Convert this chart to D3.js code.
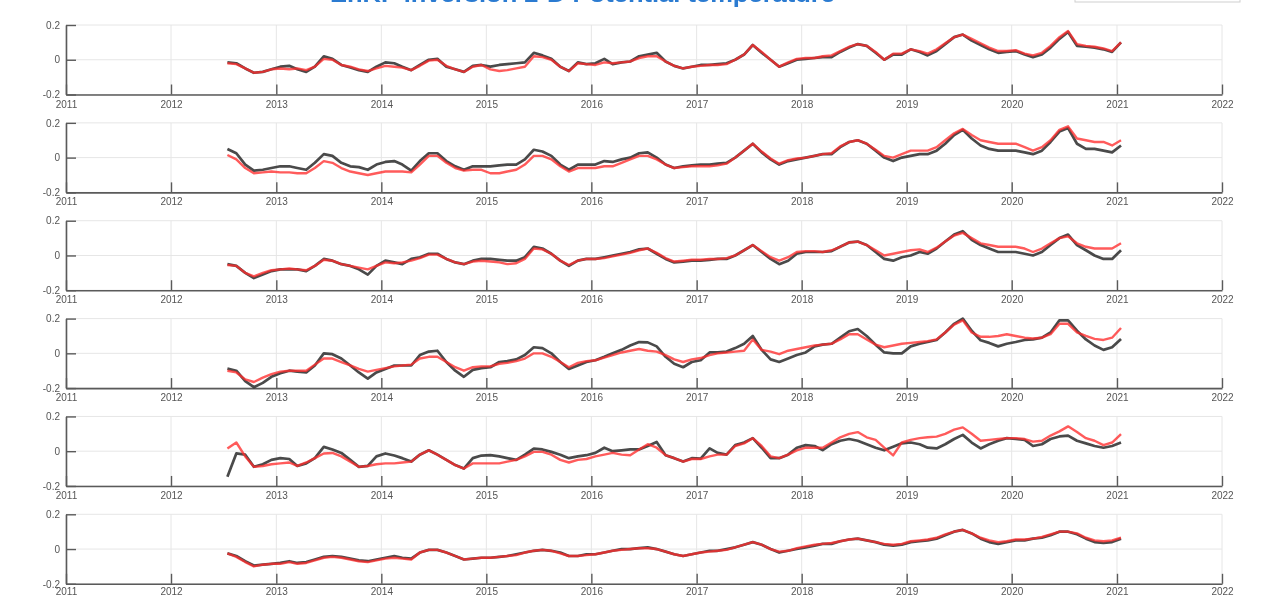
<!DOCTYPE html>
<html>
<head>
<meta charset="utf-8">
<script src="https://cdn.jsdelivr.net/npm/d3@7"></script>
<style>
  body { margin: 0; background: #fff; }
  svg { display: block; font-family: "Liberation Sans", Arial, sans-serif; filter: blur(0.55px); }
</style>
</head>
<body>
<div id="chart"></div>
<script>
// chart text and ticks
const titleText = "EnKF inversion 2-D Potential temperature";
const yearTicks = [2011, 2012, 2013, 2014, 2015, 2016, 2017, 2018, 2019, 2020, 2021, 2022];
const yTicks = [-0.2, 0, 0.2];
// monthly series, Jul 2012 .. Jan 2021
const firstMonth = new Date(2012, 6, 1), lastMonth = new Date(2021, 0, 1);

const black1 = [-0.015, -0.02, -0.05, -0.075, -0.07, -0.055,
  -0.04, -0.035, -0.055, -0.07, -0.04, 0.02, 0.005, -0.03, -0.045, -0.06, -0.07, -0.04,
  -0.015, -0.02, -0.04, -0.06, -0.03, 0.0, 0.005, -0.04, -0.055, -0.07, -0.035, -0.03,
  -0.04, -0.03, -0.025, -0.02, -0.015, 0.04, 0.025, 0.005, -0.04, -0.065, -0.015, -0.025,
  -0.02, 0.005, -0.025, -0.015, -0.01, 0.02, 0.03, 0.04, -0.01, -0.035, -0.05, -0.04,
  -0.03, -0.03, -0.025, -0.02, 0.0, 0.03, 0.085, 0.04, 0.0, -0.04, -0.02, 0.0,
  0.005, 0.01, 0.015, 0.015, 0.045, 0.07, 0.09, 0.08, 0.04, 0.0, 0.03, 0.03,
  0.06, 0.045, 0.025, 0.05, 0.09, 0.13, 0.145, 0.11, 0.085, 0.06, 0.04, 0.045,
  0.05, 0.03, 0.015, 0.03, 0.07, 0.12, 0.16, 0.08, 0.075, 0.07, 0.06, 0.045,
  0.1];
const red1 = [-0.02, -0.025, -0.05, -0.075, -0.07, -0.055,
  -0.05, -0.055, -0.05, -0.06, -0.04, 0.005, 0.0, -0.03, -0.04, -0.055, -0.065, -0.05,
  -0.035, -0.04, -0.045, -0.06, -0.035, -0.005, 0.0, -0.035, -0.055, -0.07, -0.04, -0.03,
  -0.055, -0.065, -0.06, -0.05, -0.04, 0.02, 0.015, 0.0, -0.04, -0.065, -0.02, -0.025,
  -0.03, -0.015, -0.02, -0.015, -0.01, 0.01, 0.02, 0.02, -0.01, -0.035, -0.05, -0.04,
  -0.035, -0.03, -0.03, -0.025, 0.0, 0.03, 0.085, 0.045, 0.0, -0.04, -0.015, 0.005,
  0.01, 0.01, 0.02, 0.025, 0.05, 0.075, 0.09, 0.08, 0.045, 0.0, 0.035, 0.035,
  0.06, 0.05, 0.035, 0.06, 0.095, 0.13, 0.145, 0.12, 0.095, 0.07, 0.05, 0.05,
  0.055, 0.035, 0.025, 0.04, 0.08, 0.13, 0.165, 0.09, 0.08, 0.075, 0.065, 0.05,
  0.1];

const black2 = [0.05, 0.025, -0.04, -0.075, -0.07, -0.06,
  -0.05, -0.05, -0.06, -0.07, -0.03, 0.02, 0.01, -0.03, -0.05, -0.055, -0.07, -0.04,
  -0.025, -0.02, -0.04, -0.075, -0.02, 0.025, 0.025, -0.02, -0.05, -0.07, -0.05, -0.05,
  -0.05, -0.045, -0.04, -0.04, -0.01, 0.045, 0.035, 0.01, -0.04, -0.07, -0.04, -0.04,
  -0.04, -0.02, -0.025, -0.01, 0.0, 0.025, 0.03, 0.0, -0.04, -0.06, -0.05, -0.045,
  -0.04, -0.04, -0.035, -0.03, 0.0, 0.04, 0.08, 0.03, -0.01, -0.04, -0.02, -0.01,
  0.0, 0.01, 0.02, 0.02, 0.06, 0.09, 0.1, 0.08, 0.04, 0.0, -0.02, 0.0,
  0.01, 0.02, 0.02, 0.04, 0.08, 0.13, 0.16, 0.11, 0.07, 0.05, 0.04, 0.04,
  0.04, 0.03, 0.02, 0.04, 0.09, 0.15, 0.17, 0.08, 0.05, 0.05, 0.04, 0.03,
  0.07];
const red2 = [0.015, -0.01, -0.06, -0.09, -0.085, -0.08,
  -0.085, -0.085, -0.09, -0.09, -0.06, -0.02, -0.03, -0.06, -0.08, -0.09, -0.1, -0.09,
  -0.08, -0.08, -0.08, -0.085, -0.04, 0.01, 0.01, -0.03, -0.06, -0.075, -0.07, -0.07,
  -0.09, -0.09, -0.08, -0.07, -0.04, 0.01, 0.01, -0.01, -0.05, -0.08, -0.06, -0.06,
  -0.06, -0.05, -0.05, -0.03, -0.01, 0.01, 0.01, -0.01, -0.04, -0.06, -0.055, -0.05,
  -0.05, -0.05, -0.045, -0.035, 0.0, 0.04, 0.08, 0.035, -0.005, -0.035, -0.015, -0.005,
  0.0, 0.01, 0.02, 0.025, 0.065, 0.09, 0.1, 0.08, 0.045, 0.01, 0.0, 0.02,
  0.04, 0.04, 0.04, 0.06, 0.1, 0.14, 0.165, 0.13, 0.1, 0.09, 0.08, 0.08,
  0.08, 0.06, 0.04, 0.06, 0.1, 0.16, 0.18, 0.11, 0.1, 0.09, 0.09, 0.07,
  0.1];

const black3 = [-0.05, -0.06, -0.1, -0.13, -0.11, -0.09,
  -0.08, -0.08, -0.08, -0.09, -0.06, -0.02, -0.03, -0.05, -0.06, -0.08, -0.11, -0.06,
  -0.03, -0.04, -0.05, -0.02, -0.01, 0.01, 0.01, -0.02, -0.04, -0.05, -0.03, -0.02,
  -0.02, -0.025, -0.03, -0.03, -0.01, 0.05, 0.04, 0.01, -0.03, -0.06, -0.03, -0.02,
  -0.02, -0.01, 0.0, 0.01, 0.02, 0.035, 0.04, 0.01, -0.02, -0.04, -0.035, -0.03,
  -0.03, -0.025, -0.02, -0.02, 0.0, 0.03, 0.06, 0.02, -0.02, -0.05, -0.03, 0.01,
  0.02, 0.02, 0.02, 0.025, 0.05, 0.075, 0.08, 0.06, 0.02, -0.02, -0.03, -0.01,
  0.0, 0.02, 0.01, 0.04, 0.08, 0.12, 0.14, 0.09, 0.06, 0.04, 0.02, 0.02,
  0.02, 0.01, 0.0, 0.02, 0.06, 0.1, 0.12, 0.06, 0.03, 0.0, -0.02, -0.02,
  0.03];
const red3 = [-0.055, -0.06, -0.1, -0.12, -0.1, -0.085,
  -0.08, -0.075, -0.08, -0.085, -0.06, -0.025, -0.03, -0.05, -0.06, -0.07, -0.08, -0.06,
  -0.04, -0.045, -0.04, -0.03, -0.015, 0.005, 0.005, -0.02, -0.04, -0.05, -0.035, -0.03,
  -0.035, -0.04, -0.05, -0.045, -0.02, 0.04, 0.035, 0.01, -0.03, -0.055, -0.03, -0.02,
  -0.02, -0.015, -0.005, 0.005, 0.015, 0.03, 0.04, 0.015, -0.015, -0.035, -0.03, -0.025,
  -0.025, -0.02, -0.02, -0.015, 0.0, 0.03, 0.06, 0.025, -0.01, -0.03, -0.01, 0.02,
  0.025, 0.025, 0.02, 0.03, 0.05, 0.075, 0.08, 0.06, 0.03, 0.0, 0.01, 0.02,
  0.03, 0.035, 0.02, 0.045, 0.08, 0.115, 0.13, 0.1, 0.07, 0.06, 0.05, 0.05,
  0.05, 0.04, 0.02, 0.04, 0.07, 0.1, 0.11, 0.07, 0.05, 0.04, 0.04, 0.04,
  0.07];

const black4 = [-0.088, -0.1, -0.16, -0.195, -0.17, -0.135,
  -0.115, -0.1, -0.105, -0.11, -0.07, 0.0, -0.005, -0.03, -0.07, -0.11, -0.145, -0.11,
  -0.09, -0.07, -0.07, -0.07, -0.01, 0.01, 0.015, -0.05, -0.1, -0.135, -0.095, -0.085,
  -0.08, -0.05, -0.045, -0.035, -0.01, 0.035, 0.03, 0.0, -0.05, -0.09, -0.07, -0.05,
  -0.04, -0.02, 0.0, 0.02, 0.045, 0.065, 0.063, 0.04, -0.02, -0.06, -0.08, -0.05,
  -0.04, 0.005, 0.005, 0.01, 0.03, 0.055, 0.1, 0.02, -0.035, -0.05, -0.03, -0.01,
  0.005, 0.04, 0.05, 0.055, 0.09, 0.127, 0.14, 0.1, 0.05, 0.005, 0.0, 0.0,
  0.04, 0.055, 0.065, 0.077, 0.12, 0.17, 0.2, 0.13, 0.075, 0.06, 0.04, 0.055,
  0.065, 0.077, 0.08, 0.09, 0.12, 0.19, 0.19, 0.13, 0.08, 0.045, 0.02, 0.035,
  0.083];
const red4 = [-0.1, -0.11, -0.15, -0.165, -0.14, -0.12,
  -0.105, -0.1, -0.1, -0.1, -0.065, -0.03, -0.03, -0.05, -0.07, -0.09, -0.105, -0.095,
  -0.085, -0.075, -0.07, -0.065, -0.03, -0.02, -0.02, -0.05, -0.08, -0.1, -0.08, -0.075,
  -0.075, -0.06, -0.055, -0.045, -0.03, 0.0, 0.0, -0.02, -0.05, -0.08, -0.055, -0.045,
  -0.04, -0.025, -0.01, 0.005, 0.015, 0.025, 0.015, 0.01, -0.01, -0.035, -0.05, -0.035,
  -0.027, -0.01, 0.0, 0.005, 0.01, 0.015, 0.08, 0.02, 0.01, -0.005, 0.015, 0.025,
  0.035, 0.045, 0.05, 0.055, 0.08, 0.11, 0.11, 0.08, 0.05, 0.035, 0.045, 0.055,
  0.06, 0.065, 0.07, 0.08, 0.12, 0.165, 0.19, 0.12, 0.095, 0.095, 0.1, 0.11,
  0.1, 0.09, 0.085, 0.09, 0.11, 0.17, 0.17, 0.12, 0.1, 0.083, 0.077, 0.09,
  0.146];

const black5 = [-0.147, -0.013, -0.02, -0.09, -0.075, -0.05,
  -0.04, -0.045, -0.085, -0.07, -0.04, 0.025, 0.01, -0.01, -0.05, -0.09, -0.085, -0.03,
  -0.013, -0.025, -0.04, -0.06, -0.02, 0.005, -0.02, -0.05, -0.08, -0.1, -0.04, -0.025,
  -0.023, -0.03, -0.04, -0.05, -0.02, 0.015, 0.01, -0.004, -0.02, -0.04, -0.03, -0.023,
  -0.01, 0.02, 0.0, 0.005, 0.01, 0.01, 0.03, 0.053, -0.023, -0.04, -0.06, -0.04,
  -0.043, 0.016, -0.01, -0.02, 0.035, 0.05, 0.075, 0.02, -0.04, -0.04, -0.02, 0.02,
  0.035, 0.03, 0.006, 0.04, 0.06, 0.07, 0.06, 0.04, 0.02, 0.005, 0.025, 0.045,
  0.05, 0.04, 0.02, 0.016, 0.04, 0.07, 0.094, 0.05, 0.016, 0.04, 0.06, 0.075,
  0.07, 0.065, 0.03, 0.04, 0.07, 0.085, 0.09, 0.06, 0.045, 0.03, 0.02, 0.03,
  0.05];
const red5 = [0.015, 0.05, -0.03, -0.09, -0.085, -0.075,
  -0.07, -0.065, -0.085, -0.065, -0.04, -0.013, -0.01, -0.03, -0.06, -0.09, -0.085, -0.075,
  -0.07, -0.07, -0.065, -0.06, -0.02, 0.005, -0.02, -0.05, -0.08, -0.1, -0.07, -0.07,
  -0.07, -0.07, -0.06, -0.05, -0.03, -0.004, -0.004, -0.02, -0.05, -0.065, -0.05, -0.045,
  -0.03, -0.02, -0.01, -0.02, -0.023, 0.01, 0.04, 0.02, -0.023, -0.04, -0.06, -0.045,
  -0.045, -0.03, -0.02, -0.02, 0.03, 0.045, 0.075, 0.03, -0.03, -0.04, -0.02, 0.005,
  0.02, 0.02, 0.02, 0.05, 0.08, 0.1, 0.11, 0.08, 0.065, 0.02, -0.024, 0.05,
  0.065, 0.075, 0.08, 0.084, 0.1, 0.124, 0.137, 0.1, 0.06, 0.065, 0.07, 0.075,
  0.075, 0.07, 0.055, 0.06, 0.09, 0.114, 0.143, 0.11, 0.075, 0.06, 0.035, 0.05,
  0.098];

const black6 = [-0.025, -0.04, -0.07, -0.095, -0.09, -0.085,
  -0.08, -0.07, -0.08, -0.075, -0.06, -0.045, -0.04, -0.045, -0.055, -0.065, -0.07, -0.06,
  -0.05, -0.04, -0.05, -0.055, -0.02, -0.005, -0.005, -0.02, -0.04, -0.06, -0.055, -0.05,
  -0.05, -0.045, -0.04, -0.03, -0.02, -0.01, -0.005, -0.01, -0.02, -0.04, -0.04, -0.03,
  -0.03, -0.02, -0.01, 0.0, 0.0, 0.005, 0.01, 0.0, -0.015, -0.03, -0.04, -0.03,
  -0.02, -0.01, -0.01, 0.0, 0.01, 0.025, 0.04, 0.025, 0.0, -0.02, -0.01, 0.0,
  0.01, 0.02, 0.03, 0.03, 0.045, 0.055, 0.06, 0.05, 0.04, 0.025, 0.02, 0.025,
  0.04, 0.045, 0.05, 0.06, 0.08, 0.1, 0.11, 0.09, 0.06, 0.04, 0.03, 0.04,
  0.05, 0.05, 0.06, 0.065, 0.08, 0.1, 0.1, 0.085, 0.06, 0.04, 0.035, 0.04,
  0.06];
const red6 = [-0.025, -0.045, -0.075, -0.1, -0.09, -0.085,
  -0.085, -0.075, -0.085, -0.08, -0.065, -0.05, -0.045, -0.05, -0.06, -0.07, -0.075, -0.065,
  -0.055, -0.05, -0.055, -0.06, -0.02, -0.005, -0.005, -0.02, -0.04, -0.06, -0.055, -0.05,
  -0.05, -0.045, -0.04, -0.035, -0.02, -0.01, -0.005, -0.01, -0.025, -0.04, -0.04, -0.035,
  -0.03, -0.02, -0.01, -0.005, 0.0, 0.005, 0.005, 0.0, -0.015, -0.03, -0.04, -0.03,
  -0.02, -0.015, -0.01, -0.005, 0.01, 0.025, 0.04, 0.025, 0.0, -0.015, -0.01, 0.005,
  0.015, 0.025, 0.03, 0.035, 0.045, 0.055, 0.06, 0.05, 0.04, 0.03, 0.025, 0.03,
  0.045, 0.05, 0.055, 0.065, 0.085, 0.1, 0.11, 0.09, 0.065, 0.05, 0.04, 0.045,
  0.055, 0.055, 0.06, 0.07, 0.085, 0.1, 0.1, 0.09, 0.065, 0.05, 0.045, 0.05,
  0.065];

const blackSeries = [black1, black2, black3, black4, black5, black6];
const redSeries = [red1, red2, red3, red4, red5, red6];

// layout
const W = 1267, H = 596;
const left = 66, right = 1222;
const panelTop = 25, panelStep = 97.86, panelH = 69.5;

var svg = d3.select("#chart").append("svg")
    .attr("width", W)
    .attr("height", H);

// title sits mostly above the visible area, as in the source figure
svg.append("text")
    .attr("x", 330)
    .attr("y", 2)
    .attr("font-size", "22px")
    .attr("font-weight", "bold")
    .attr("fill", "#2b7bd1")
    .attr("textLength", 505)
    .attr("lengthAdjust", "spacingAndGlyphs")
    .text(titleText);
// bottom edge of the legend box
svg.append("rect")
    .attr("x", 1075).attr("y", -30)
    .attr("width", 165).attr("height", 32)
    .attr("fill", "#fff")
    .attr("stroke", "#cfcfcf");

var months = d3.timeMonth.range(firstMonth, d3.timeMonth.offset(lastMonth, 1))
    .map(m => d3.timeDay.offset(m, 14));
var yearDates = yearTicks.map(y => new Date(y, 0, 1));

var xScale = d3.scaleTime()
    .domain([yearDates[0], yearDates[yearDates.length - 1]])
    .range([left, right]);
var yScale = d3.scaleLinear().domain([-0.2, 0.2]).range([panelH, 0]);

var line = d3.line()
    .x((d, i) => xScale(months[i]))
    .y(d => yScale(d));

blackSeries.forEach((blk, k) => {
    var g = svg.append("g")
        .attr("transform", "translate(0," + (panelTop + k * panelStep) + ")");
    var last = k === blackSeries.length - 1;

    // grid
    g.selectAll(".vgrid")
        .data(yearDates)
        .enter().append("line")
        .attr("x1", d => xScale(d)).attr("x2", d => xScale(d))
        .attr("y1", 0).attr("y2", panelH)
        .attr("stroke", "#e6e6e6");
    g.selectAll(".hgrid")
        .data(yTicks)
        .enter().append("line")
        .attr("x1", left).attr("x2", right)
        .attr("y1", d => yScale(d)).attr("y2", d => yScale(d))
        .attr("stroke", "#e6e6e6");

    // axes, ticks pointing inward
    var ax = g.append("g")
        .attr("transform", "translate(0," + panelH + ")")
        .call(d3.axisBottom(xScale).tickValues(yearDates)
            .tickFormat(d3.timeFormat("%Y")).tickSize(-10).tickSizeOuter(0)
            .tickPadding(last ? 4 : 6));
    var ay = g.append("g")
        .attr("transform", "translate(" + left + ",0)")
        .call(d3.axisLeft(yScale).tickValues(yTicks)
            .tickFormat(d => String(d)).tickSize(-10).tickSizeOuter(0).tickPadding(6));
    [ax, ay].forEach(a => {
        a.select(".domain").attr("stroke", "#5a5a5a").attr("stroke-width", 1.6);
        a.selectAll(".tick line").attr("stroke", "#5a5a5a").attr("stroke-width", 1.4);
        a.selectAll("text").attr("fill", "#555").attr("font-size", "10px")
            .attr("font-family", "Liberation Sans, Arial, sans-serif");
    });

    // series
    g.append("path")
        .attr("d", line(blk))
        .attr("fill", "none")
        .attr("stroke", "#2a2a2a")
        .attr("stroke-opacity", 0.85)
        .attr("stroke-width", 2.7)
        .attr("stroke-linejoin", "round");
    g.append("path")
        .attr("d", line(redSeries[k]))
        .attr("fill", "none")
        .attr("stroke", "#ff2d2d")
        .attr("stroke-opacity", 0.78)
        .attr("stroke-width", 2.4)
        .attr("stroke-linejoin", "round");
});
</script>
</body>
</html>
